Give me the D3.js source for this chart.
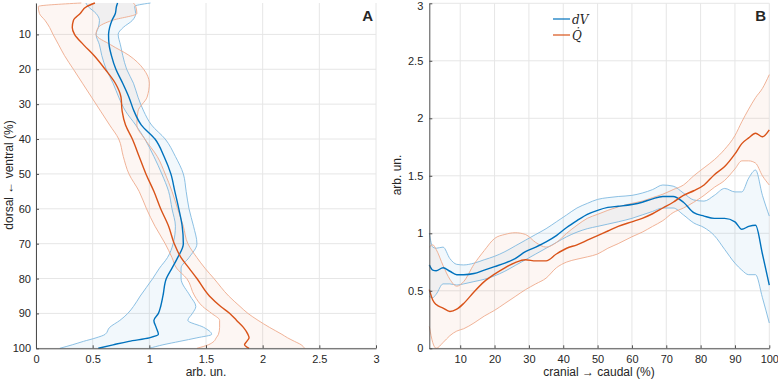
<!DOCTYPE html>
<meta charset="utf-8">
<script src="https://d3js.org/d3.v7.min.js"></script>
<style>
  body { margin: 0; background: #fff; }
  text { font-family: "Liberation Sans", Arial, sans-serif; fill: #262626; }
</style>
<div id="chart"></div>
<script>

// ---- panel A: position (%) vs value ----
var posA = [1,2,4,6,8,10,13,16,20,24,28,32,36,40,45,50,55,60,65,70,74,77,80,85,88,90,92,94,96,97,98,99,100];
var aBlueMean = [0.72,0.71,0.70,0.67,0.65,0.64,0.645,0.665,0.705,0.765,0.82,0.865,0.93,1.05,1.13,1.19,1.225,1.26,1.29,1.30,1.25,1.20,1.15,1.12,1.10,1.08,1.04,1.06,1.08,1.00,0.82,0.68,0.55];
var aBlueLo   = [0.44,0.46,0.53,0.56,0.55,0.53,0.56,0.58,0.62,0.68,0.73,0.79,0.88,0.96,1.04,1.11,1.17,1.20,1.23,1.21,1.16,1.09,1.03,0.92,0.86,0.81,0.74,0.65,0.61,0.53,0.42,0.32,0.21];
var aBlueHi   = [1.01,0.87,0.88,0.85,0.77,0.725,0.745,0.765,0.80,0.86,0.90,0.95,1.02,1.14,1.23,1.30,1.325,1.35,1.39,1.42,1.35,1.28,1.28,1.36,1.41,1.38,1.34,1.48,1.55,1.42,1.27,1.12,1.0];
var aOrMean   = [0.52,0.45,0.39,0.33,0.32,0.34,0.42,0.51,0.61,0.70,0.75,0.76,0.79,0.85,0.91,0.97,1.04,1.10,1.17,1.22,1.28,1.35,1.42,1.53,1.63,1.71,1.77,1.83,1.87,1.88,1.86,1.84,1.88];
var aOrLo     = [0.40,0.02,0.03,0.08,0.12,0.15,0.20,0.25,0.33,0.41,0.49,0.57,0.65,0.73,0.77,0.82,0.91,0.975,1.05,1.14,1.20,1.24,1.33,1.40,1.47,1.55,1.62,1.62,1.61,1.59,1.57,1.52,1.42];
var aOrHi     = [0.86,0.88,0.89,0.67,0.55,0.53,0.66,0.82,0.95,1.00,0.98,0.90,0.89,0.96,1.07,1.14,1.20,1.25,1.30,1.34,1.42,1.49,1.57,1.70,1.80,1.87,1.96,2.06,2.17,2.22,2.28,2.34,2.37];

// ---- panel B: cranial -> caudal (%) vs value ----
var posB = [1,2,3,5,7,9,11,14,17,20,23,26,29,32,35,38,41,44,47,50,53,56,60,63,66,69,72,75,78,81,84,87,90,92,94,96,98,100];
var bBlueMean = [0.725,0.68,0.675,0.70,0.67,0.64,0.64,0.65,0.68,0.71,0.74,0.78,0.84,0.88,0.925,0.98,1.05,1.11,1.165,1.20,1.225,1.235,1.25,1.27,1.30,1.32,1.32,1.27,1.18,1.15,1.13,1.13,1.10,1.035,1.06,1.07,0.82,0.55];
var bBlueHi   = [1.0,0.88,0.87,0.88,0.78,0.73,0.725,0.74,0.77,0.80,0.84,0.89,0.94,0.99,1.04,1.10,1.16,1.22,1.26,1.295,1.31,1.32,1.33,1.35,1.38,1.42,1.41,1.35,1.29,1.28,1.33,1.39,1.36,1.36,1.48,1.55,1.33,1.15];
var bBlueLo   = [0.45,0.44,0.47,0.56,0.56,0.55,0.56,0.58,0.60,0.63,0.67,0.72,0.77,0.82,0.87,0.92,0.97,1.01,1.04,1.06,1.08,1.10,1.13,1.16,1.19,1.22,1.22,1.16,1.09,1.05,0.98,0.86,0.74,0.68,0.64,0.64,0.44,0.22];
var bOrMean   = [0.51,0.42,0.38,0.35,0.32,0.34,0.39,0.49,0.58,0.645,0.70,0.745,0.77,0.76,0.76,0.82,0.87,0.90,0.94,0.98,1.02,1.06,1.10,1.13,1.17,1.22,1.27,1.33,1.37,1.42,1.51,1.58,1.69,1.78,1.83,1.87,1.84,1.90];
var bOrHi     = [0.88,0.90,0.86,0.72,0.60,0.54,0.58,0.73,0.85,0.955,0.99,1.005,0.99,0.92,0.88,0.92,1.00,1.07,1.13,1.165,1.20,1.23,1.26,1.28,1.31,1.34,1.38,1.42,1.50,1.57,1.64,1.73,1.85,1.97,2.08,2.18,2.26,2.38];
var bOrLo     = [0.19,0.05,0.0,0.05,0.11,0.15,0.17,0.22,0.28,0.33,0.39,0.45,0.51,0.56,0.61,0.70,0.75,0.775,0.795,0.82,0.87,0.91,0.97,1.01,1.06,1.11,1.18,1.22,1.27,1.33,1.40,1.46,1.56,1.63,1.63,1.61,1.50,1.42];

var ticksA_x = [0, 0.5, 1, 1.5, 2, 2.5, 3];
var ticksA_y = [10, 20, 30, 40, 50, 60, 70, 80, 90, 100];
var ticksB_x = [10, 20, 30, 40, 50, 60, 70, 80, 90, 100];
var ticksB_y = [0, 0.5, 1, 1.5, 2, 2.5, 3];

var blue = "#0072BD", blueEdge = "#7fb9e0";
var orange = "#D95319", orangeEdge = "#eeaa8c";

var svg = d3.select("#chart").append("svg")
  .attr("width", 778).attr("height", 382);

// scales
var xA = d3.scaleLinear().domain([0, 3]).range([36, 376]);
var yA = d3.scaleLinear().domain([1, 100]).range([3, 348.3]);
var xB = d3.scaleLinear().domain([1, 100]).range([429.3, 769.3]);
var yB = d3.scaleLinear().domain([0, 3]).range([348.3, 3.3]);

// grids
function vgrid(ticks, x, y0, y1) {
  svg.append("g").selectAll("line").data(ticks).enter().append("line")
    .attr("x1", function(d) { return x(d); }).attr("x2", function(d) { return x(d); })
    .attr("y1", y0).attr("y2", y1)
    .attr("stroke", "#e6e6e6").attr("stroke-width", 1);
}
function hgrid(ticks, y, x0, x1) {
  svg.append("g").selectAll("line").data(ticks).enter().append("line")
    .attr("y1", function(d) { return y(d); }).attr("y2", function(d) { return y(d); })
    .attr("x1", x0).attr("x2", x1)
    .attr("stroke", "#e6e6e6").attr("stroke-width", 1);
}
vgrid(ticksA_x, xA, 3, 348.3);
hgrid(ticksA_y, yA, 36, 376);
vgrid(ticksB_x, xB, 3.3, 348.3);
hgrid(ticksB_y, yB, 429.3, 769.3);

// line generators
function genA(arr, pos) {
  return d3.line().curve(d3.curveMonotoneY)
    .y(function(i) { return yA(pos[i]); })
    .x(function(i) { return xA(arr[i]); });
}
function genB(arr, pos) {
  return d3.line().curve(d3.curveMonotoneX)
    .x(function(i) { return xB(pos[i]); })
    .y(function(i) { return yB(arr[i]); });
}
function areaA(lo, hi, pos) {
  return d3.area().curve(d3.curveMonotoneY)
    .y(function(i) { return yA(pos[i]); })
    .x0(function(i) { return xA(lo[i]); })
    .x1(function(i) { return xA(hi[i]); });
}
function areaB(lo, hi, pos) {
  return d3.area().curve(d3.curveMonotoneX)
    .x(function(i) { return xB(pos[i]); })
    .y0(function(i) { return yB(lo[i]); })
    .y1(function(i) { return yB(hi[i]); });
}

var idxA = d3.range(posA.length), idxB = d3.range(posB.length);
var fills = svg.append("g"), edges = svg.append("g"), means = svg.append("g");

var series = [
  {area: areaA(aBlueLo, aBlueHi, posA), lo: genA(aBlueLo, posA), hi: genA(aBlueHi, posA), m: genA(aBlueMean, posA), idx: idxA, c: blue, e: blueEdge},
  {area: areaA(aOrLo, aOrHi, posA), lo: genA(aOrLo, posA), hi: genA(aOrHi, posA), m: genA(aOrMean, posA), idx: idxA, c: orange, e: orangeEdge},
  {area: areaB(bBlueLo, bBlueHi, posB), lo: genB(bBlueLo, posB), hi: genB(bBlueHi, posB), m: genB(bBlueMean, posB), idx: idxB, c: blue, e: blueEdge},
  {area: areaB(bOrLo, bOrHi, posB), lo: genB(bOrLo, posB), hi: genB(bOrHi, posB), m: genB(bOrMean, posB), idx: idxB, c: orange, e: orangeEdge}
];

series.forEach(function(s) {
  fills.append("path").attr("d", s.area(s.idx)).attr("fill", s.c).attr("fill-opacity", 0.05);
  edges.append("path").attr("d", s.lo(s.idx)).attr("fill", "none").attr("stroke", s.e).attr("stroke-width", 0.9);
  edges.append("path").attr("d", s.hi(s.idx)).attr("fill", "none").attr("stroke", s.e).attr("stroke-width", 0.9);
  means.append("path").attr("d", s.m(s.idx)).attr("fill", "none").attr("stroke", s.c).attr("stroke-width", 1.4);
});

// axes
function styleAxis(g) {
  g.select(".domain").attr("stroke", "#4d4d4d");
  g.selectAll(".tick line").attr("stroke", "#4d4d4d");
  g.selectAll(".tick text").style("font-size", "11px").attr("fill", "#262626");
}
var fmt = function(d) { return String(d); };

svg.append("g").attr("transform", "translate(0,348.3)")
  .call(d3.axisBottom(xA).tickValues(ticksA_x).tickFormat(fmt).tickSizeInner(-3).tickSizeOuter(0).tickPadding(7))
  .call(styleAxis);
svg.append("g").attr("transform", "translate(36,0)")
  .call(d3.axisLeft(yA).tickValues(ticksA_y).tickFormat(fmt).tickSizeInner(-3).tickSizeOuter(0).tickPadding(5))
  .call(styleAxis);
svg.append("g").attr("transform", "translate(0,348.3)")
  .call(d3.axisBottom(xB).tickValues(ticksB_x).tickFormat(fmt).tickSizeInner(-3).tickSizeOuter(0).tickPadding(7))
  .call(styleAxis);
var axB = svg.append("g").attr("transform", "translate(429.3,0)")
  .call(d3.axisLeft(yB).tickValues(ticksB_y).tickFormat(fmt).tickSizeInner(-3).tickSizeOuter(0).tickPadding(6))
  .call(styleAxis);
// keep the top label inside the picture
axB.selectAll(".tick text").filter(function(d) { return d === 3; }).attr("dy", "0.55em");

// axis labels
svg.append("text").attr("x", 206).attr("y", 376).attr("text-anchor", "middle")
  .style("font-size", "12px").text("arb. un.");
svg.append("text").attr("transform", "translate(13,175) rotate(-90)").attr("text-anchor", "middle")
  .style("font-size", "12px").text("dorsal \u2190 ventral (%)");
svg.append("text").attr("x", 599).attr("y", 376).attr("text-anchor", "middle")
  .style("font-size", "12px").text("cranial \u2192 caudal (%)");
svg.append("text").attr("transform", "translate(401,175) rotate(-90)").attr("text-anchor", "middle")
  .style("font-size", "12px").text("arb. un.");

// panel letters
svg.append("text").attr("x", 373).attr("y", 21).attr("text-anchor", "end")
  .style("font-size", "15px").style("font-weight", "bold").attr("fill", "#000").text("A");
svg.append("text").attr("x", 766).attr("y", 21).attr("text-anchor", "end")
  .style("font-size", "15px").style("font-weight", "bold").attr("fill", "#000").text("B");

// legend
var legend = [{label: "dV", color: blue, y: 19}, {label: "Q\u0307", color: orange, y: 35}];
var lg = svg.append("g");
legend.forEach(function(d) {
  lg.append("line").attr("x1", 553).attr("x2", 570).attr("y1", d.y).attr("y2", d.y)
    .attr("stroke", d.color).attr("stroke-width", 1.2);
  lg.append("text").attr("x", 572).attr("y", d.y + 4.5)
    .style("font-family", "'DejaVu Serif', 'Liberation Serif', serif")
    .style("font-style", "italic").style("font-size", "12px").text(d.label);
});

</script>
